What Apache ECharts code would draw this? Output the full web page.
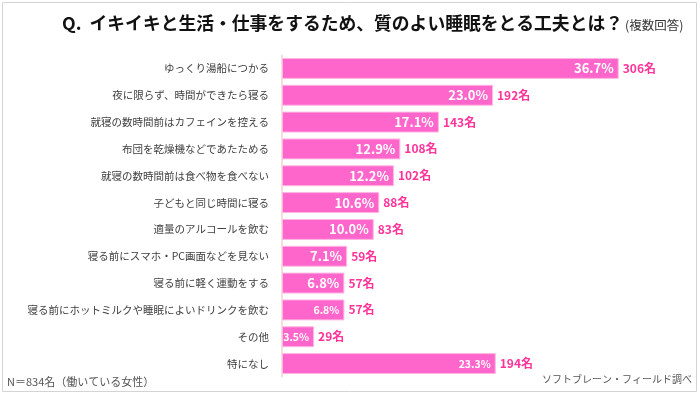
<!DOCTYPE html>
<html><head><meta charset="utf-8">
<script src="https://cdn.jsdelivr.net/npm/echarts@6/dist/echarts.min.js"></script>
<style>html,body{margin:0;padding:0;background:#fff}#c{width:700px;height:395px}</style>
</head><body><div id="c"></div>
<script>
const categories = ['ゆっくり湯船につかる','夜に限らず、時間ができたら寝る','就寝の数時間前はカフェインを控える','布団を乾燥機などであたためる','就寝の数時間前は食べ物を食べない','子どもと同じ時間に寝る','適量のアルコールを飲む','寝る前にスマホ・PC画面などを見ない','寝る前に軽く運動をする','寝る前にホットミルクや睡眠によいドリンクを飲む','その他','特になし'];
const percents = [36.7, 23.0, 17.1, 12.9, 12.2, 10.6, 10.0, 7.1, 6.8, 6.8, 3.5, 23.3];
const counts = [306, 192, 143, 108, 102, 88, 83, 59, 57, 57, 29, 194];
const smallLabelIdx = [9, 10, 11];

const FONT = '"Noto Sans CJK JP", "Noto Sans", sans-serif';
const chart = echarts.init(document.getElementById('c'));
chart.setOption({
  animation: false,
  textStyle: { fontFamily: FONT },
  title: {
    left: 57, top: 9,
    text: '{a|Q.  イキイキと生活・仕事をするため、質のよい睡眠をとる工夫とは？}{b|(複数回答)}',
    textStyle: {
      rich: {
        a: { fontSize: 17.8, fontWeight: 'bold', color: '#111', fontFamily: FONT },
        b: { fontSize: 12.5, fontWeight: 'normal', color: '#333', fontFamily: FONT, padding: [4, 0, 0, 2] }
      }
    }
  },
  grid: { left: 282, top: 55, height: 322, width: 367 },
  xAxis: { type: 'value', min: 0, max: 40, show: false },
  yAxis: {
    type: 'category', data: categories, inverse: true,
    axisLine: { show: true, lineStyle: { color: '#f2d6cc', width: 1.5 } },
    axisTick: { show: false },
    axisLabel: { color: '#404040', fontSize: 10.5, margin: 13, fontFamily: FONT }
  },
  series: [
    {
      type: 'bar', barCategoryGap: '22%',
      data: percents.map((v, i) => ({
        value: v,
        label: smallLabelIdx.includes(i) ? { fontSize: 10.5 } : {}
      })),
      itemStyle: { color: '#ff66cc', borderColor: '#ffb8e2', borderWidth: 1 },
      label: {
        show: true, position: 'insideRight', distance: 5,
        color: '#fff', fontWeight: 'bold', fontSize: 13,
        formatter: p => p.value.toFixed(1) + '%'
      },
      z: 2
    },
    {
      type: 'bar', barGap: '-100%', barCategoryGap: '22%',
      data: percents,
      itemStyle: { color: 'rgba(0,0,0,0)' },
      label: {
        show: true, position: 'right', distance: 4,
        color: '#ff3399', fontWeight: 'bold', fontSize: 12,
        formatter: p => counts[p.dataIndex] + '名'
      },
      z: 1, silent: true
    }
  ],
  graphic: [
    { type: 'rect', shape: { x: 2.5, y: 2.5, width: 694, height: 389 }, style: { fill: 'none', stroke: '#d4d4d4', lineWidth: 1 } },
    { type: 'text', left: 7, top: 376, style: { text: 'N＝834名（働いている女性）', fontSize: 11, fill: '#555', fontFamily: FONT } },
    { type: 'text', right: 8, top: 374, style: { text: 'ソフトブレーン・フィールド調べ', fontSize: 10, fill: '#555', fontFamily: FONT } }
  ]
});
</script></body></html>
